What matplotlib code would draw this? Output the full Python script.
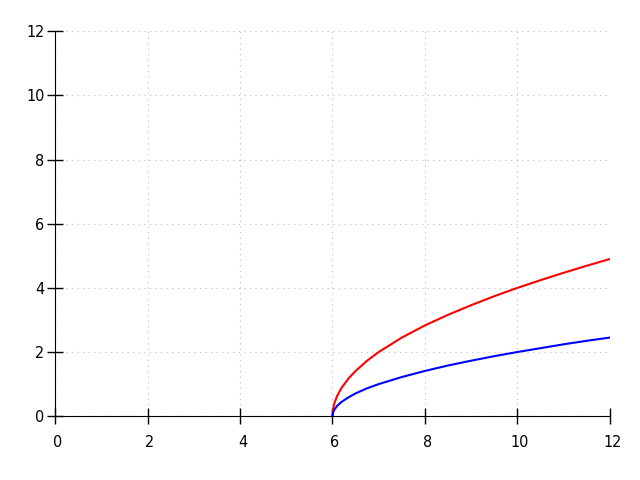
import numpy as np
import matplotlib
matplotlib.use('Agg')
import matplotlib.pyplot as plt
import matplotlib.transforms as mtransforms

# values
x = [6.0, 6.01, 6.04, 6.1, 6.2, 6.35, 6.5, 6.75, 7.0, 7.5, 8.0,
     8.5, 9.0, 9.5, 10.0, 10.5, 11.0, 11.5, 12.0]
red = [0, 0.2, 0.4, 0.63, 0.89, 1.18, 1.41, 1.73, 2.0, 2.45, 2.83,
       3.16, 3.46, 3.74, 4.0, 4.24, 4.47, 4.69, 4.9]
blue = [0, 0.1, 0.2, 0.32, 0.45, 0.59, 0.71, 0.87, 1.0, 1.22, 1.41,
        1.58, 1.73, 1.87, 2.0, 2.12, 2.24, 2.35, 2.45]
ticks = [0, 2, 4, 6, 8, 10, 12]

plt.rcParams['font.family'] = 'DejaVu Sans'
plt.rcParams['font.stretch'] = 'condensed'

fig = plt.figure(figsize=(6.4, 4.8), dpi=100)
ax = fig.add_axes([0.086, 0.133, 0.867, 0.802])

ax.plot(x, red, color='red', lw=1.5)
ax.plot(x, blue, color='blue', lw=1.5)

ax.set_xlim(0, 12)
ax.set_ylim(0, 12)
ax.set_xticks(ticks)
ax.set_yticks(ticks)
ax.spines['top'].set_visible(False)
ax.spines['right'].set_visible(False)
ax.tick_params(direction='inout', length=11, width=1, labelsize=11.5)
ax.tick_params(axis='x', pad=8)
ax.tick_params(axis='y', pad=2)
ax.grid(True, linestyle=(0, (1, 4)), color='#bbbbbb', lw=0.8)

shift = mtransforms.ScaledTranslation(2.5 / 100, 0, fig.dpi_scale_trans)
for lbl in ax.get_xticklabels():
    lbl.set_transform(lbl.get_transform() + shift)

fig.savefig('out.png')
